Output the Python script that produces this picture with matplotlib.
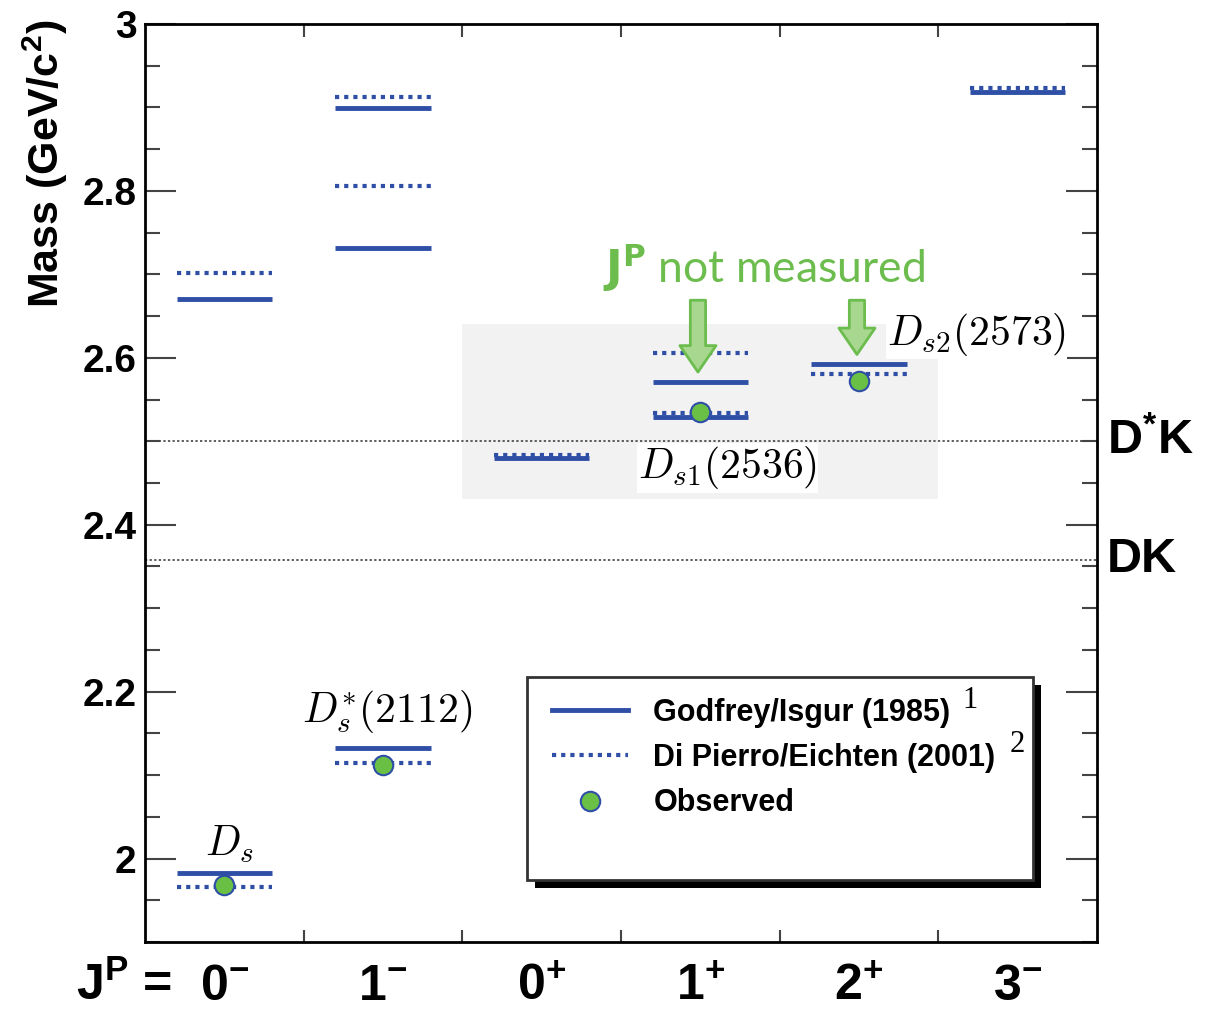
import numpy as np
import matplotlib.pyplot as plt
from matplotlib.patches import Rectangle
from matplotlib.lines import Line2D
from matplotlib.ticker import MultipleLocator, FuncFormatter

plt.rcParams['font.family'] = ['Liberation Sans', 'DejaVu Sans']
plt.rcParams['font.weight'] = 'bold'
plt.rcParams['mathtext.fontset'] = 'custom'
plt.rcParams['mathtext.rm'] = 'Liberation Sans:bold'
plt.rcParams['mathtext.bf'] = 'Liberation Sans:bold'
plt.rcParams['mathtext.it'] = 'Liberation Sans:bold:italic'
plt.rcParams['mathtext.sf'] = 'Liberation Sans:bold'

# J^P columns
jp_labels = ['0^{-}', '1^{-}', '0^{+}', '1^{+}', '2^{+}', '3^{-}']

# Godfrey/Isgur (1985) predictions
gi_col = [0, 0, 1, 1, 1, 2, 3, 3, 4, 5]
gi_mass = [1.983, 2.671, 2.132, 2.731, 2.899, 2.480, 2.529, 2.571, 2.592, 2.919]

# Di Pierro/Eichten (2001) predictions
de_col = [0, 0, 1, 1, 1, 2, 3, 3, 4, 5]
de_mass = [1.966, 2.702, 2.114, 2.806, 2.913, 2.484, 2.534, 2.606, 2.581, 2.923]

# observed states
obs_col = [0, 1, 3, 4]
obs_mass = [1.968, 2.112, 2.535, 2.572]
obs_names = [r'$D_s$', r'$D^{*}_{s}\mathsf{(2112)}$', r'$D_{s\mathsf{1}}\mathsf{(2536)}$',
             r'$D_{s\mathsf{2}}\mathsf{(2573)}$']

# thresholds
thr_mass = [2.500, 2.358]
thr_names = [r'D$^{*}$K', 'DK']

blue = '#2f4fa6'
green = '#6cbd4e'

fig = plt.figure(figsize=(12.11, 10.13), dpi=100)
ax = fig.add_axes([0.1197, 0.0701, 0.7862, 0.9062])
ax.set_xlim(0, 6)
ax.set_ylim(1.9, 3.0)

# gray band (states near threshold)
ax.add_patch(Rectangle((2, 2.431), 3, 0.21, fc='#f2f2f2', ec='none', zorder=0.5))

# thresholds
for m, name in zip(thr_mass, thr_names):
    ax.axhline(m, color='#333333', lw=1.1, ls=(0, (1.5, 1.5)), zorder=1)
    ax.text(1.01, m, name, transform=ax.get_yaxis_transform(), fontsize=35,
            ha='left', va='center', clip_on=False)

gi_c = np.array(gi_col)
de_c = np.array(de_col)
ax.hlines(gi_mass, gi_c + 0.2, gi_c + 0.8, color=blue, lw=3.5, zorder=2)
ax.hlines(de_mass, de_c + 0.2, de_c + 0.8, color=blue, lw=3.0,
          linestyles=(0, (1, 1.2)), zorder=2.2)
ax.plot(np.array(obs_col) + 0.5, obs_mass, 'o', ms=14, mfc='#6abf45', mec=blue,
        mew=1.5, zorder=3, ls='none')

# state labels
lab_x = [0.53, 1.525, 3.67, 4.675]
lab_y = [2.017, 2.176, 2.468, 2.628]
lab_ha = ['center', 'center', 'center', 'left']
for name, x, y, ha in zip(obs_names, lab_x, lab_y, lab_ha):
    ax.text(x, y, name, fontsize=30, ha=ha, va='center', math_fontfamily='cm',
            bbox=dict(fc='white', ec='none', pad=1), zorder=4, clip_on=False)

# "not measured" note with arrows
ax.text(3.9, 2.708, r'$\mathsf{J}^{\mathsf{P}}$ not measured', fontsize=32, color=green,
        family='Lato', fontweight='normal', ha='center', va='center',
        math_fontfamily='dejavusans', zorder=4)
for x0, ytip in [(3.485, 2.583), (4.487, 2.604)]:
    ax.annotate('', xy=(x0, ytip), xytext=(x0, 2.669),
                arrowprops=dict(arrowstyle='simple,head_width=1.3,head_length=0.95,tail_width=0.55',
                                fc='#a8d88f', ec=green, lw=2, mutation_scale=20,
                                shrinkA=0, shrinkB=0), zorder=4)

# axes styling
ax.yaxis.set_major_locator(MultipleLocator(0.2))
ax.yaxis.set_minor_locator(MultipleLocator(0.05))
ax.yaxis.set_major_formatter(FuncFormatter(lambda v, p: f'{v:g}'))
ax.set_xticks([1, 2, 3, 4, 5])
ax.set_xticklabels([])
ax.tick_params(axis='y', which='major', direction='in', length=22, width=1.5,
               color='#444444', labelsize=28, right=True, pad=6)
ax.tick_params(axis='y', which='minor', direction='in', length=11, width=1.5,
               color='#444444', right=True)
ax.tick_params(axis='x', which='major', direction='in', length=9, width=1.5,
               color='#444444', top=True)
for s in ax.spines.values():
    s.set_linewidth(2)

for i, lab in enumerate(jp_labels):
    ax.text(i + 0.5, -0.0635, '$\\mathbf{' + lab + '}$', transform=ax.get_xaxis_transform(),
            ha='center', va='baseline', fontsize=36)
ax.text(0.17, -0.0635, r'$\mathbf{J^{P}}$ =', transform=ax.get_xaxis_transform(),
        ha='right', va='baseline', fontsize=36)

fig.text(0.037, 1 - 20 / 1013, r'Mass (GeV/c$^{2}$)', rotation=90, ha='center',
         va='top', fontsize=31)

# legend box with shadow
lx, ly, lw_, lh = 0.401, 0.0675, 0.532, 0.2215
ax.add_patch(Rectangle((lx + 0.0084, ly - 0.0087), lw_, lh, transform=ax.transAxes,
                       fc='black', ec='none', zorder=5.9, clip_on=False))
ax.add_patch(Rectangle((lx, ly), lw_, lh, transform=ax.transAxes,
                       fc='white', ec='#333333', lw=2, zorder=6, clip_on=False))
handles = [Line2D([], [], color=blue, lw=3.5),
           Line2D([], [], color=blue, lw=3.0, ls=(0, (1, 1.2))),
           Line2D([], [], marker='o', ms=14, mfc='#6abf45', mec=blue, mew=1.5, ls='none')]
labels = ['Godfrey/Isgur (1985)', 'Di Pierro/Eichten (2001)', 'Observed']
leg = ax.legend(handles, labels, loc='upper left', bbox_to_anchor=(0.4275, 0.266),
                frameon=False, borderpad=0, borderaxespad=0, fontsize=22,
                handlelength=2.5, handletextpad=0.82, labelspacing=0.5)
leg.set_zorder(7)
ax.text(0.867, 0.2636, '1', transform=ax.transAxes, family='Liberation Serif',
        fontweight='normal', fontsize=22, ha='center', va='center', zorder=8)
ax.text(0.916, 0.2146, '2', transform=ax.transAxes, family='Liberation Serif',
        fontweight='normal', fontsize=22, ha='center', va='center', zorder=8)

fig.savefig('out.png', dpi=100)
